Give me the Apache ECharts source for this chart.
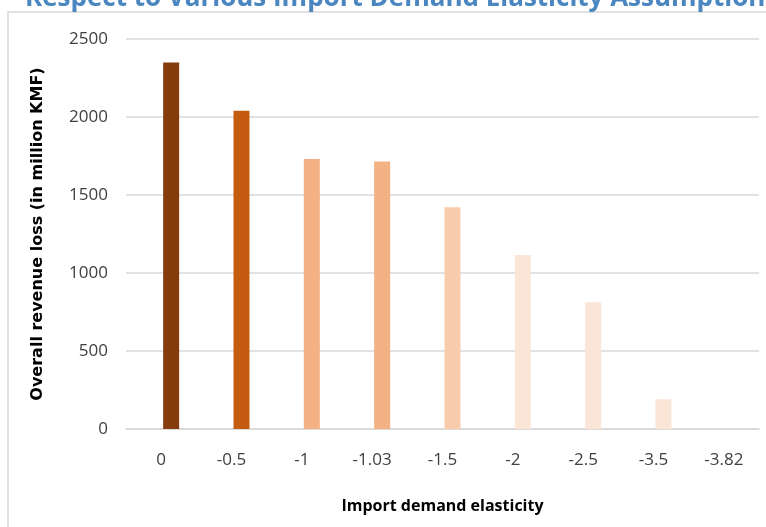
<!DOCTYPE html>
<html>
<head>
<meta charset="utf-8">
<script src="https://cdn.jsdelivr.net/npm/echarts@6/dist/echarts.min.js"></script>
<style>html,body{margin:0;padding:0;background:#fff;}#c{width:766px;height:527px;}</style>
</head>
<body>
<div id="c"></div>
<script>
var categories = ['0', '-0.5', '-1', '-1.03', '-1.5', '-2', '-2.5', '-3.5', '-3.82'];
var revenueLoss = [2350, 2040, 1730, 1715, 1422, 1115, 812, 190, 0];
var barColors = ['#843c0c', '#c55a11', '#f4b183', '#f4b183', '#f8cbad', '#fbe5d6', '#fbe5d6', '#fbe5d6', '#fbe5d6'];
var yTicks = [0, 500, 1000, 1500, 2000, 2500];
var titleText = 'Respect to Various Import Demand Elasticity Assumptions';

var chart = echarts.init(document.getElementById('c'));
var font = '"Open Sans", "Noto Sans", sans-serif';
chart.setOption({
  animation: false,
  title: {
    text: titleText,
    left: 20,
    top: -19,
    textStyle: { color: '#4a86bf', fontSize: 26, fontWeight: 'bold', fontFamily: font }
  },
  graphic: [{
    type: 'rect',
    shape: { x: 8, y: 12, width: 800, height: 560 },
    style: { fill: 'none', stroke: '#d9d9d9', lineWidth: 1.5 },
    silent: true
  }],
  grid: { left: 126, right: 7, top: 39, bottom: 98 },
  xAxis: {
    type: 'category',
    data: categories,
    name: 'Import demand elasticity',
    nameLocation: 'middle',
    nameGap: 69,
    nameTextStyle: { color: '#000', fontSize: 16, fontWeight: 'bold', fontFamily: font },
    axisLine: { lineStyle: { color: '#d9d9d9', width: 1.5 } },
    axisTick: { show: false },
    axisLabel: { color: '#404040', fontSize: 17, margin: 23, fontFamily: font }
  },
  yAxis: {
    type: 'value',
    min: yTicks[0],
    max: yTicks[yTicks.length - 1],
    interval: 500,
    name: 'Overall revenue loss (in million KMF)',
    nameLocation: 'middle',
    nameGap: 80,
    nameTextStyle: { color: '#000', fontSize: 16, fontWeight: 'bold', fontFamily: '"DejaVu Sans", sans-serif' },
    axisLine: { show: false },
    axisTick: { show: false },
    splitLine: { lineStyle: { color: '#d9d9d9', width: 1.5 } },
    axisLabel: { color: '#404040', fontSize: 17, margin: 18, fontFamily: font, formatter: function (v) { return String(v); } }
  },
  series: [
    {
      type: 'bar',
      name: 'placeholder',
      data: categories.map(function () { return null; }),
      barWidth: 16,
      barGap: '25%',
      silent: true
    },
    {
      type: 'bar',
      name: 'Overall revenue loss',
      barWidth: 16,
      barGap: '25%',
      data: revenueLoss.map(function (v, i) {
        return { value: v, itemStyle: { color: barColors[i] } };
      })
    }
  ]
});
</script>
</body>
</html>
